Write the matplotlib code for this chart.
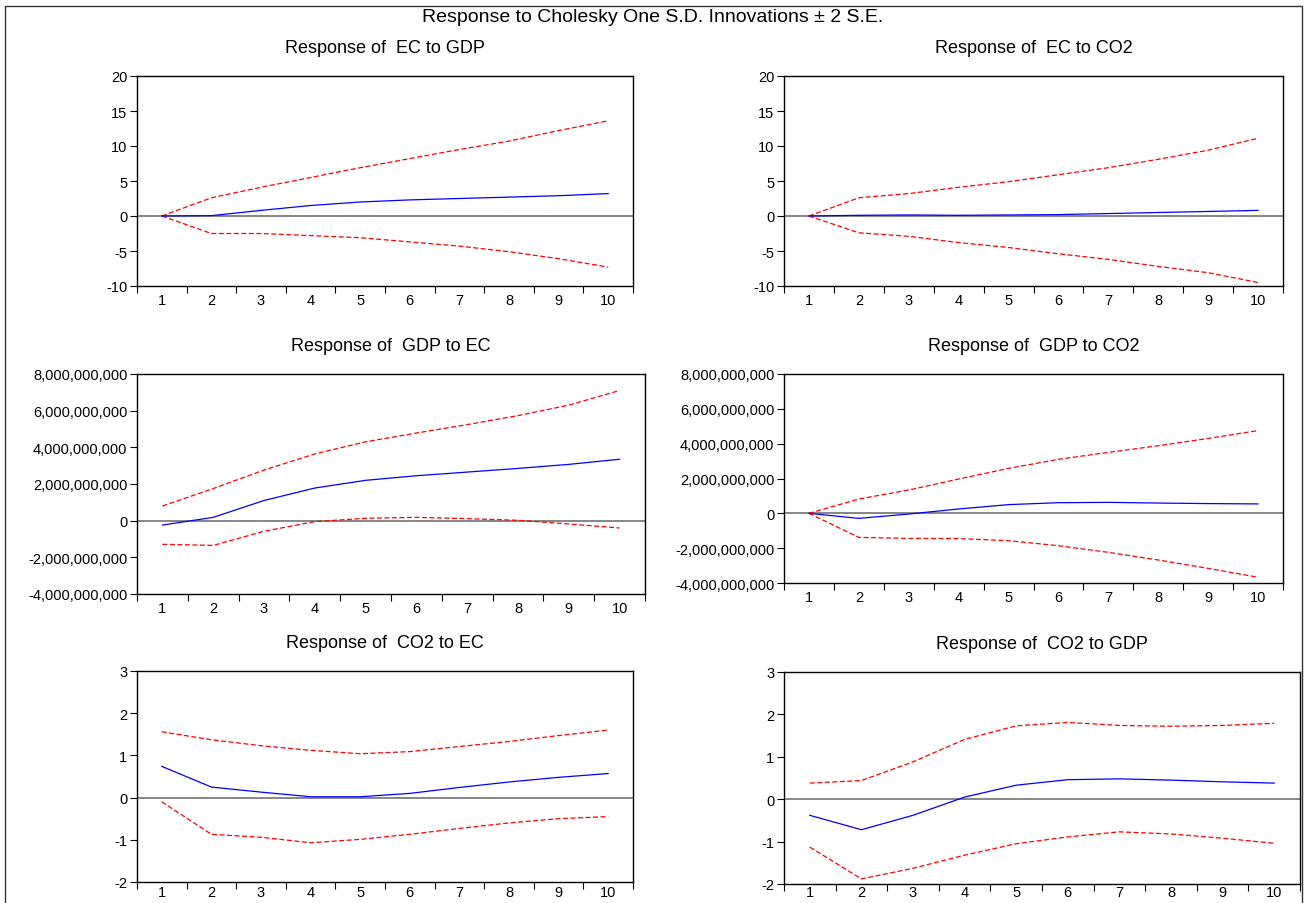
import matplotlib
matplotlib.use("Agg")
import matplotlib.pyplot as plt
import matplotlib.ticker as mticker
from matplotlib.patches import Rectangle
import numpy as np

plt.rcParams['font.family'] = ['Liberation Sans', 'DejaVu Sans']
plt.rcParams['axes.unicode_minus'] = False

# impulse response periods
periods = [1, 2, 3, 4, 5, 6, 7, 8, 9, 10]

# Response of EC to GDP
ec_gdp = [0, 0.05, 0.8, 1.5, 2.0, 2.3, 2.5, 2.7, 2.9, 3.2]
ec_gdp_up = [0, 2.6, 4.1, 5.5, 6.9, 8.2, 9.5, 10.7, 12.2, 13.6]
ec_gdp_lo = [0, -2.5, -2.5, -2.8, -3.1, -3.7, -4.3, -5.1, -6.1, -7.3]

# Response of EC to CO2
ec_co2 = [0, 0.1, 0.15, 0.1, 0.15, 0.2, 0.35, 0.5, 0.65, 0.8]
ec_co2_up = [0, 2.6, 3.2, 4.1, 4.9, 5.9, 6.9, 8.1, 9.4, 11.1]
ec_co2_lo = [0, -2.4, -2.9, -3.8, -4.5, -5.4, -6.2, -7.2, -8.1, -9.5]

# Response of GDP to EC
gdp_ec = [-0.24e9, 0.18e9, 1.1e9, 1.78e9, 2.2e9, 2.45e9, 2.65e9, 2.85e9, 3.07e9, 3.35e9]
gdp_ec_up = [0.8e9, 1.75e9, 2.76e9, 3.64e9, 4.3e9, 4.78e9, 5.24e9, 5.73e9, 6.3e9, 7.1e9]
gdp_ec_lo = [-1.29e9, -1.35e9, -0.58e9, -0.05e9, 0.13e9, 0.18e9, 0.11e9, 0.02e9, -0.18e9, -0.4e9]

# Response of GDP to CO2
gdp_co2 = [0, -0.29e9, -0.04e9, 0.25e9, 0.5e9, 0.61e9, 0.63e9, 0.59e9, 0.56e9, 0.54e9]
gdp_co2_up = [0, 0.82e9, 1.34e9, 1.97e9, 2.58e9, 3.1e9, 3.5e9, 3.88e9, 4.3e9, 4.75e9]
gdp_co2_lo = [0, -1.38e9, -1.44e9, -1.45e9, -1.57e9, -1.86e9, -2.24e9, -2.68e9, -3.16e9, -3.67e9]

# Response of CO2 to EC
co2_ec = [0.74, 0.25, 0.13, 0.02, 0.02, 0.1, 0.24, 0.37, 0.48, 0.57]
co2_ec_up = [1.56, 1.37, 1.23, 1.12, 1.04, 1.09, 1.21, 1.33, 1.47, 1.6]
co2_ec_lo = [-0.1, -0.87, -0.94, -1.07, -0.99, -0.87, -0.73, -0.6, -0.5, -0.45]

# Response of CO2 to GDP
co2_gdp = [-0.38, -0.72, -0.38, 0.05, 0.33, 0.46, 0.48, 0.45, 0.41, 0.38]
co2_gdp_up = [0.38, 0.44, 0.88, 1.41, 1.73, 1.81, 1.74, 1.72, 1.74, 1.79]
co2_gdp_lo = [-1.13, -1.88, -1.63, -1.32, -1.05, -0.89, -0.77, -0.82, -0.92, -1.04]

W, H = 1305, 904
fig = plt.figure(figsize=(W / 100, H / 100), dpi=100)

# outer frame
fig.patches.append(Rectangle((5 / W, -0.01), 1297 / W, 1 - 7 / H + 0.01,
                             transform=fig.transFigure, fill=False,
                             edgecolor='#333333', linewidth=1))
fig.text(0.5, 1 - 17 / H, 'Response to Cholesky One S.D. Innovations \u00b1 2 S.E.',
         ha='center', va='center', fontsize=14)


def panel(box, title, resp, up, lo, yticks, big=False, xpad=5):
    l, t, r, b = box
    ax = fig.add_axes([l / W, 1 - b / H, (r - l) / W, (b - t) / H])
    ax.axhline(0, color='#666666', linewidth=1.1, zorder=1)
    ax.plot(periods, up, color='#ff0000', linestyle=(0, (4, 2)), linewidth=0.9)
    ax.plot(periods, lo, color='#ff0000', linestyle=(0, (4, 2)), linewidth=0.9)
    ax.plot(periods, resp, color='#0000ff', linewidth=0.9)
    ax.set_xlim(0.5, 10.5)
    ax.set_ylim(yticks[0], yticks[-1])
    ax.set_yticks(yticks)
    if big:
        ax.yaxis.set_major_formatter(mticker.FuncFormatter(lambda v, p: f'{v:,.0f}'))
    else:
        ax.yaxis.set_major_formatter(mticker.FuncFormatter(lambda v, p: f'{v:.0f}'))
    ax.set_xticks(np.arange(0.5, 11, 1))
    ax.set_xticklabels([])
    ax.set_xticks(periods, minor=True)
    ax.set_xticklabels([str(p) for p in periods], minor=True)
    ax.tick_params(axis='x', which='major', direction='out', length=5, width=0.8)
    ax.tick_params(axis='x', which='minor', length=0, labelsize=10.5, pad=xpad)
    ax.tick_params(axis='y', direction='out', length=5, width=0.8, labelsize=10.5, pad=2)
    for s in ax.spines.values():
        s.set_linewidth(1)
    ax.set_title(title, fontsize=13, pad=17)
    return ax


panel((137, 77, 633, 287), 'Response of  EC to GDP', ec_gdp, ec_gdp_up, ec_gdp_lo,
      [-10, -5, 0, 5, 10, 15, 20])
panel((784, 77, 1283, 287), 'Response of  EC to CO2', ec_co2, ec_co2_up, ec_co2_lo,
      [-10, -5, 0, 5, 10, 15, 20])
panel((137, 375, 645, 595), 'Response of  GDP to EC', gdp_ec, gdp_ec_up, gdp_ec_lo,
      [-4e9, -2e9, 0, 2e9, 4e9, 6e9, 8e9], big=True)
panel((784, 375, 1283, 584), 'Response of  GDP to CO2', gdp_co2, gdp_co2_up, gdp_co2_lo,
      [-4e9, -2e9, 0, 2e9, 4e9, 6e9, 8e9], big=True)
panel((137, 672, 633, 883), 'Response of  CO2 to EC', co2_ec, co2_ec_up, co2_ec_lo,
      [-2, -1, 0, 1, 2, 3], xpad=2)
panel((784, 673, 1300, 885), 'Response of  CO2 to GDP', co2_gdp, co2_gdp_up, co2_gdp_lo,
      [-2, -1, 0, 1, 2, 3], xpad=1)

fig.savefig('out.png', dpi=100)
